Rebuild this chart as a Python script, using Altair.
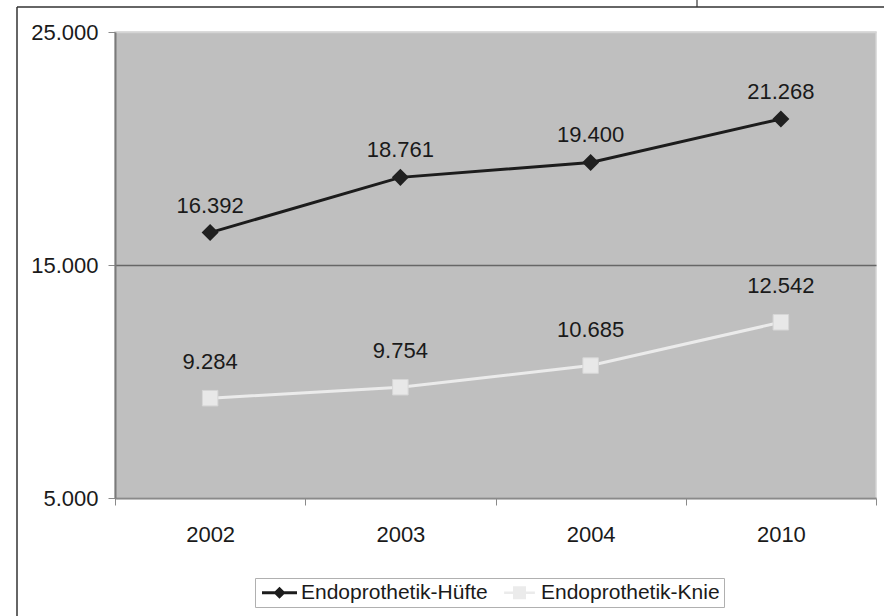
import altair as alt
import pandas as pd

years = ['2002', '2003', '2004', '2010']
huefte = [16392, 18761, 19400, 21268]
knie = [9284, 9754, 10685, 12542]
series_names = ['Endoprothetik-Hüfte', 'Endoprothetik-Knie']
y_ticks = [5000, 15000, 25000]
y_domain = [5000, 25000]

rows = []
for s, vals in zip(series_names, [huefte, knie]):
    for yr, v in zip(years, vals):
        rows.append({'Jahr': yr, 'Wert': v, 'Serie': s,
                     'Label': f'{v:,}'.replace(',', '.')})
df = pd.DataFrame(rows)

FONT = 'Liberation Sans'
TXT = '#1a1a1a'
DARK = '#1c1c1c'
LIGHT = '#ebebeb'
FS = 22

W, H = 761, 466
PL, PT, PR, PB = 115, 32, 8, 118

x_enc = alt.X('Jahr:N', sort=years,
              scale=alt.Scale(type='band', paddingInner=0, paddingOuter=0),
              axis=alt.Axis(title=None, labelAngle=0, tickBand='extent',
                            tickSize=7, tickColor='#8a8a8a', domainColor='#8a8a8a',
                            domainWidth=2, labelFont=FONT, labelFontSize=FS,
                            labelColor=TXT, labelPadding=19, grid=False))
y_enc = alt.Y('Wert:Q',
              scale=alt.Scale(domain=y_domain, nice=False, zero=False),
              axis=alt.Axis(title=None, values=y_ticks,
                            labelExpr="replace(format(datum.value, ','), ',', '.')",
                            tickSize=7, tickColor='#8a8a8a', domainColor='#7a7a7a',
                            domainWidth=2, labelFont=FONT, labelFontSize=FS,
                            labelColor=TXT, labelPadding=10, grid=True,
                            gridColor={'condition': {'test': 'datum.value === 15000', 'value': '#666666'},
                                       'value': '#d4d4d4'},
                            gridWidth=1.5))

color_scale = alt.Scale(domain=series_names, range=[DARK, LIGHT])

base = alt.Chart(df)

path_h = ('M-2.5,-0.21H2.5V0.21H-2.5Z '
          'M0,-0.86L0.86,0L0,0.86L-0.86,0Z')
path_k = ('M-2.2,-0.18H2.2V0.18H-2.2Z '
          'M-0.93,-0.93H0.93V0.93H-0.93Z')

legend = alt.Legend(title=None, orient='none', legendX=140, legendY=546,
                    direction='horizontal', labelFont=FONT, labelFontSize=FS - 1,
                    labelColor=TXT, labelLimit=0, symbolSize=196, symbolStrokeWidth=0,
                    symbolOffset=10, labelOffset=11, columnPadding=11,
                    labelExpr="datum.index == 1 ? datum.label + '\u00a0\u00a0\u00a0\u00a0\u00a0\u00a0\u00a0\u00a0\u00a0' : datum.label",
                    padding=4, strokeColor='#b0b0b0', fillColor='white',
                    symbolOpacity=1)

# invisible layer carrying the legend
legend_layer = base.mark_point(filled=True, opacity=0).encode(
    x=x_enc, y=y_enc,
    color=alt.Color('Serie:N', scale=color_scale, legend=legend),
    shape=alt.Shape('Serie:N', scale=alt.Scale(domain=series_names, range=[path_h, path_k]),
                    legend=legend))

lines = base.mark_line(strokeWidth=3).encode(
    x=x_enc, y=y_enc,
    color=alt.Color('Serie:N', scale=color_scale, legend=None))

pts_h = base.transform_filter(alt.datum.Serie == series_names[0]).mark_point(
    shape='diamond', filled=True, size=290, color='#202020', opacity=1).encode(x=x_enc, y=y_enc)
pts_k = base.transform_filter(alt.datum.Serie == series_names[1]).mark_point(
    shape='square', filled=True, size=240, color='#e8e8e8', opacity=1,
    stroke='#d6d6d6', strokeWidth=1).encode(x=x_enc, y=y_enc)

txt_h = base.transform_filter(alt.datum.Serie == series_names[0]).mark_text(
    font=FONT, fontSize=FS, color=TXT, dy=-20, baseline='alphabetic').encode(
    x=x_enc, y=y_enc, text='Label:N')
txt_k = base.transform_filter(alt.datum.Serie == series_names[1]).mark_text(
    font=FONT, fontSize=FS, color=TXT, dy=-29, baseline='alphabetic').encode(
    x=x_enc, y=y_enc, text='Label:N')

frame_data = alt.Data(values=[{'k': 1}])
frame_left = alt.Chart(frame_data).mark_rule(color='#333333', strokeWidth=1.5).encode(
    x=alt.value(17 - PL), y=alt.value(7 - PT), y2=alt.value(H + PB))
frame_top = alt.Chart(frame_data).mark_rule(color='#333333', strokeWidth=1.5).encode(
    x=alt.value(17 - PL), x2=alt.value(W + PR), y=alt.value(7 - PT))
frame_tick = alt.Chart(frame_data).mark_rule(color='#333333', strokeWidth=1.2).encode(
    x=alt.value(697 - PL), y=alt.value(-PT), y2=alt.value(7 - PT))

chart = alt.layer(legend_layer, lines, pts_h, pts_k, txt_h, txt_k,
                  frame_left, frame_top, frame_tick).properties(
    width=W, height=H,
    autosize=alt.AutoSizeParams(type='none'),
    padding={'left': PL, 'top': PT, 'right': PR, 'bottom': PB},
    background='white'
).configure_view(fill='#bfbfbf', stroke='#d4d4d4', strokeWidth=1.5)

chart.save('out.html', embed_options={'renderer': 'svg', 'actions': False})
